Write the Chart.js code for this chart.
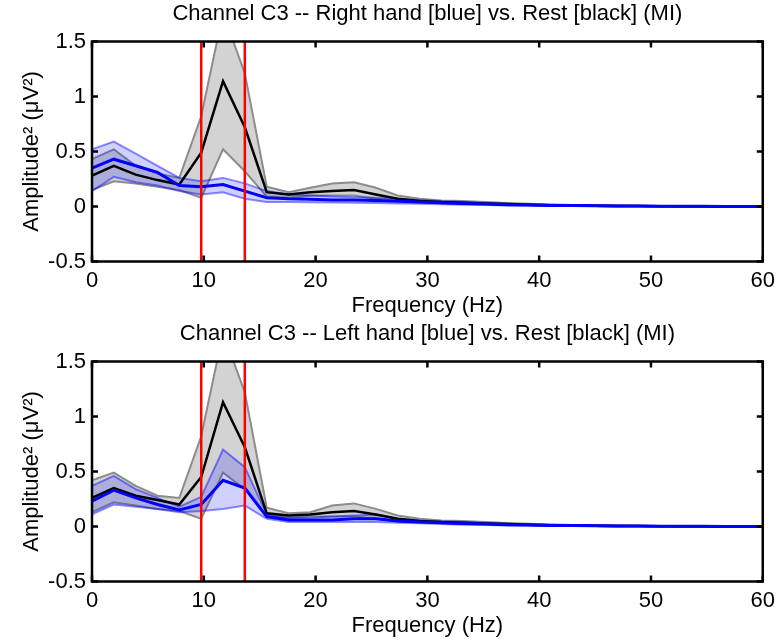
<!DOCTYPE html>
<html lang="en">
<head>
    <meta charset="UTF-8">
    <script src="https://cdn.jsdelivr.net/npm/chart.js"></script>
    <title>Channel C3 spectra</title>
</head>
<style>
    body { margin: 0; background: #fff; }
    .plot { position: absolute; left: 0; width: 781px; height: 320px; }
</style>
<body>
    <div class="plot" style="top:0px"><canvas id="chartRight"></canvas></div>
    <div class="plot" style="top:320px"><canvas id="chartLeft"></canvas></div>
<script>
    // frequency bins (Hz)
    const freqs = [0, 1.95, 3.91, 5.86, 7.81, 9.77, 11.72, 13.67, 15.63, 17.58, 19.53, 21.48, 23.44, 25.39, 27.34, 29.3,
                   31.25, 33.2, 35.16, 37.11, 39.06, 41.02, 42.97, 44.92, 46.88, 48.83, 50.78, 52.73, 54.69, 56.64, 58.59, 60.55];
    const redLines = [9.77, 13.67];
    const yMin = -0.5, yMax = 1.5;

    // top plot: right hand (blue) vs rest (black)
    const restMeanR  = [0.28, 0.37, 0.29, 0.24, 0.20, 0.49, 1.14, 0.72, 0.13, 0.11, 0.13, 0.14, 0.15, 0.11, 0.07, 0.05, 0.04, 0.035, 0.028, 0.022, 0.016, 0.012, 0.009, 0.007, 0.005, 0.004, 0.003, 0.002, 0.002, 0.001, 0.001, 0.001];
    const restUpperR = [0.43, 0.52, 0.37, 0.30, 0.26, 0.82, 1.76, 1.21, 0.18, 0.13, 0.17, 0.21, 0.22, 0.17, 0.10, 0.07, 0.055, 0.05, 0.04, 0.032, 0.025, 0.019, 0.014, 0.011, 0.008, 0.006, 0.005, 0.004, 0.003, 0.002, 0.002, 0.002];
    const restLowerR = [0.15, 0.23, 0.21, 0.18, 0.15, 0.08, 0.52, 0.32, 0.09, 0.08, 0.10, 0.10, 0.10, 0.07, 0.05, 0.04, 0.03, 0.025, 0.02, 0.015, 0.011, 0.008, 0.006, 0.004, 0.003, 0.002, 0.002, 0.001, 0.001, 0, 0, 0];
    const handMeanR  = [0.35, 0.43, 0.37, 0.31, 0.19, 0.18, 0.20, 0.14, 0.08, 0.07, 0.065, 0.06, 0.058, 0.055, 0.048, 0.04, 0.033, 0.028, 0.022, 0.017, 0.013, 0.01, 0.008, 0.006, 0.005, 0.004, 0.003, 0.002, 0.002, 0.001, 0.001, 0.001];
    const handUpperR = [0.52, 0.59, 0.48, 0.37, 0.26, 0.23, 0.26, 0.21, 0.14, 0.11, 0.10, 0.09, 0.085, 0.08, 0.07, 0.058, 0.048, 0.04, 0.032, 0.025, 0.019, 0.015, 0.012, 0.009, 0.007, 0.005, 0.004, 0.003, 0.002, 0.002, 0.001, 0.001];
    const handLowerR = [0.14, 0.27, 0.22, 0.19, 0.14, 0.11, 0.13, 0.07, 0.04, 0.04, 0.038, 0.036, 0.034, 0.032, 0.028, 0.024, 0.02, 0.016, 0.013, 0.01, 0.008, 0.006, 0.005, 0.004, 0.003, 0.002, 0.002, 0.001, 0.001, 0, 0, 0];

    // bottom plot: left hand (blue) vs rest (black)
    const restMeanL  = [0.26, 0.35, 0.28, 0.24, 0.20, 0.45, 1.13, 0.72, 0.12, 0.10, 0.11, 0.13, 0.14, 0.11, 0.07, 0.05, 0.04, 0.035, 0.028, 0.022, 0.016, 0.012, 0.009, 0.007, 0.005, 0.004, 0.003, 0.002, 0.002, 0.001, 0.001, 0.001];
    const restUpperL = [0.42, 0.49, 0.37, 0.28, 0.26, 0.82, 1.76, 1.22, 0.17, 0.12, 0.13, 0.19, 0.21, 0.16, 0.10, 0.07, 0.055, 0.05, 0.04, 0.032, 0.025, 0.019, 0.014, 0.011, 0.008, 0.006, 0.005, 0.004, 0.003, 0.002, 0.002, 0.002];
    const restLowerL = [0.13, 0.22, 0.19, 0.16, 0.14, 0.07, 0.49, 0.34, 0.09, 0.08, 0.09, 0.09, 0.09, 0.07, 0.05, 0.04, 0.03, 0.025, 0.02, 0.015, 0.011, 0.008, 0.006, 0.004, 0.003, 0.002, 0.002, 0.001, 0.001, 0, 0, 0];
    const handMeanL  = [0.23, 0.33, 0.26, 0.20, 0.15, 0.20, 0.42, 0.35, 0.09, 0.06, 0.06, 0.06, 0.07, 0.07, 0.05, 0.04, 0.033, 0.028, 0.022, 0.017, 0.013, 0.01, 0.008, 0.006, 0.005, 0.004, 0.003, 0.002, 0.002, 0.001, 0.001, 0.001];
    const handUpperL = [0.37, 0.46, 0.34, 0.26, 0.18, 0.27, 0.70, 0.54, 0.11, 0.08, 0.08, 0.09, 0.10, 0.11, 0.07, 0.055, 0.046, 0.04, 0.032, 0.025, 0.019, 0.015, 0.012, 0.009, 0.007, 0.005, 0.004, 0.003, 0.002, 0.002, 0.001, 0.001];
    const handLowerL = [0.11, 0.20, 0.18, 0.16, 0.13, 0.14, 0.16, 0.19, 0.07, 0.04, 0.04, 0.04, 0.04, 0.04, 0.035, 0.03, 0.022, 0.017, 0.013, 0.01, 0.008, 0.006, 0.005, 0.004, 0.003, 0.002, 0.002, 0.001, 0.001, 0, 0, 0];

    const FONT = "'Liberation Sans', Arial, sans-serif";
    const FSIZE = 22;

    function xy(values) {
        return values.map((v, i) => ({x: freqs[i], y: v}));
    }

    // box around the plot area with inward ticks, matlab style
    const framePlugin = {
        id: 'frame',
        afterLayout(chart) {
            // center the title over the axes, not the whole canvas
            if (chart.titleBlock) {
                chart.titleBlock.left = chart.chartArea.left;
                chart.titleBlock.right = chart.chartArea.right;
            }
        },
        afterDraw(chart) {
            const ctx = chart.ctx;
            const a = chart.chartArea;
            const xs = chart.scales.x, ys = chart.scales.y;
            ctx.save();
            ctx.strokeStyle = '#000';
            ctx.lineWidth = 2.5;
            ctx.strokeRect(a.left, a.top, a.right - a.left, a.bottom - a.top);
            ctx.beginPath();
            xs.ticks.forEach(t => {
                const px = xs.getPixelForValue(t.value);
                ctx.moveTo(px, a.bottom); ctx.lineTo(px, a.bottom - 6);
                ctx.moveTo(px, a.top); ctx.lineTo(px, a.top + 6);
            });
            ys.ticks.forEach(t => {
                const py = ys.getPixelForValue(t.value);
                ctx.moveTo(a.left, py); ctx.lineTo(a.left + 6, py);
                ctx.moveTo(a.right, py); ctx.lineTo(a.right - 6, py);
            });
            ctx.stroke();
            ctx.restore();
        }
    };

    function CreateChart(id, title, restMean, restUpper, restLower, handMean, handUpper, handLower) {
        var datasets = [
            { data: xy(restUpper), borderColor: '#8c8c8c', borderWidth: 2, backgroundColor: 'rgb(211,211,211)', fill: '+1' },
            { data: xy(restLower), borderColor: '#8c8c8c', borderWidth: 2, fill: false },
            { data: xy(handUpper), borderColor: 'rgba(0,0,255,0.45)', borderWidth: 2, backgroundColor: 'rgba(0,0,255,0.18)', fill: '+1' },
            { data: xy(handLower), borderColor: 'rgba(0,0,255,0.45)', borderWidth: 2, fill: false },
            { data: xy(restMean), borderColor: '#000', borderWidth: 2.5, fill: false },
            { data: xy(handMean), borderColor: '#0000ff', borderWidth: 3, fill: false }
        ];
        redLines.forEach(f => {
            datasets.push({ data: [{x: f, y: yMin}, {x: f, y: yMax}], borderColor: '#ff0000', borderWidth: 2.5, fill: false });
        });
        // first dataset drawn first
        datasets.forEach((d, i) => {
            d.order = datasets.length - i;
            d.pointRadius = 0;
            d.tension = 0;
        });

        return new Chart(document.getElementById(id), {
            type: 'line',
            data: { datasets: datasets },
            options: {
                responsive: true,
                maintainAspectRatio: false,
                animation: false,
                layout: { padding: { left: 0, right: 14, top: 0, bottom: 0 } },
                plugins: {
                    legend: { display: false },
                    tooltip: { enabled: false },
                    title: {
                        display: true,
                        text: title,
                        color: '#000',
                        font: { family: FONT, size: FSIZE, weight: 'normal' },
                        padding: { top: 1, bottom: 14.1 }
                    }
                },
                scales: {
                    x: {
                        type: 'linear',
                        min: 0,
                        max: 60,
                        grid: { display: false, drawTicks: false },
                        border: { display: false },
                        ticks: { stepSize: 10, color: '#000', font: { family: FONT, size: FSIZE }, padding: 6, maxRotation: 0, autoSkip: false },
                        title: { display: true, text: 'Frequency (Hz)', color: '#000', font: { family: FONT, size: FSIZE }, padding: { top: 0, bottom: 0.8 } },
                        afterFit: s => { s.height = 58.5; }
                    },
                    y: {
                        min: yMin,
                        max: yMax,
                        grid: { display: false, drawTicks: false },
                        border: { display: false },
                        ticks: { stepSize: 0.5, color: '#000', font: { family: FONT, size: FSIZE }, padding: 6,
                                 callback: v => String(v) },
                        title: { display: true, text: 'Amplitude² (μV²)', color: '#000', font: { family: FONT, size: FSIZE }, padding: { top: 18.8, bottom: 0 } },
                        afterFit: s => { s.width = 92; }
                    }
                }
            },
            plugins: [framePlugin]
        });
    }

    CreateChart('chartRight', 'Channel C3 -- Right hand [blue] vs. Rest [black] (MI)',
        restMeanR, restUpperR, restLowerR, handMeanR, handUpperR, handLowerR);
    CreateChart('chartLeft', 'Channel C3 -- Left hand [blue] vs. Rest [black] (MI)',
        restMeanL, restUpperL, restLowerL, handMeanL, handUpperL, handLowerL);
</script>
</body>
</html>
